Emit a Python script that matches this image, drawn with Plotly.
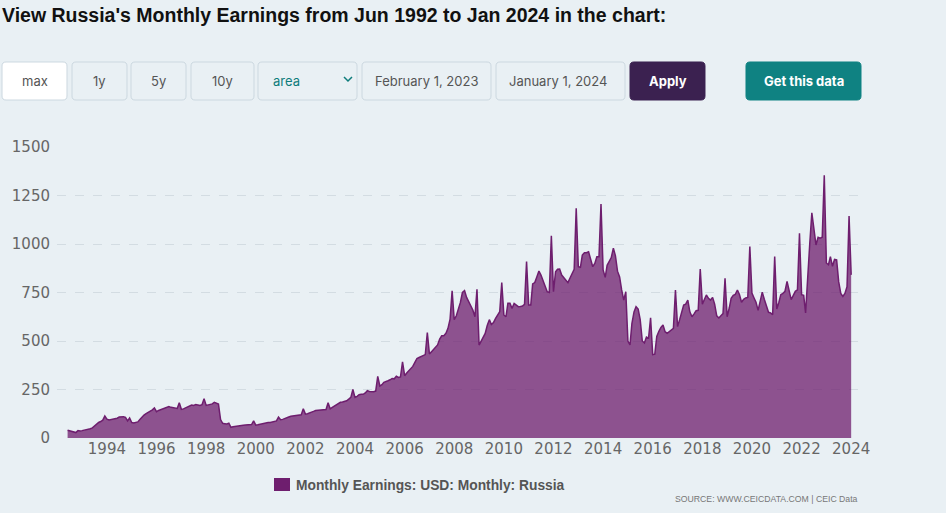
import pandas as pd
import plotly.graph_objects as go

# monthly earnings, USD (Jun 1992 .. Jan 2024)
y1992 = [40, 38, 35, 32, 28, 38, 36]
y1993 = [38, 40, 42, 45, 48, 52, 62, 72, 80, 85, 92, 113]
y1994 = [97, 93, 95, 96, 98, 102, 108, 110, 110, 106, 88, 103]
y1995 = [80, 78, 79, 83, 95, 108, 118, 126, 132, 140, 145, 155]
y1996 = [136, 142, 146, 150, 153, 158, 162, 158, 155, 153, 152, 182]
y1997 = [148, 150, 155, 160, 165, 170, 168, 172, 170, 168, 172, 203]
y1998 = [168, 170, 172, 176, 184, 180, 175, 95, 76, 74, 72, 76]
y1999 = [55, 58, 60, 62, 64, 66, 66, 67, 67, 68, 69, 88]
y2000 = [66, 68, 71, 74, 76, 79, 80, 80, 82, 84, 88, 108]
y2001 = [94, 96, 101, 104, 108, 112, 114, 115, 116, 118, 120, 151]
y2002 = [123, 125, 130, 133, 137, 142, 143, 142, 143, 146, 147, 182]
y2003 = [150, 158, 165, 172, 178, 184, 186, 188, 192, 200, 209, 250]
y2004 = [209, 215, 223, 225, 225, 232, 244, 240, 238, 239, 242, 318]
y2005 = [268, 275, 287, 290, 295, 300, 307, 305, 318, 312, 315, 393]
y2006 = [321, 335, 347, 358, 369, 390, 410, 415, 421, 425, 430, 544]
y2007 = [433, 445, 455, 470, 480, 510, 527, 527, 540, 565, 613, 759]
y2008 = [610, 630, 660, 699, 750, 760, 725, 700, 680, 660, 625, 766]
y2009 = [479, 500, 520, 539, 580, 610, 585, 595, 617, 635, 651, 801]
y2010 = [634, 625, 694, 694, 668, 694, 685, 677, 678, 680, 689, 909]
y2011 = [685, 685, 794, 801, 830, 861, 840, 810, 780, 754, 750, 1043]
y2012 = [754, 857, 870, 871, 840, 825, 814, 801, 825, 849, 869, 1184]
y2013 = [883, 880, 943, 955, 955, 960, 926, 883, 900, 934, 934, 1206]
y2014 = [866, 828, 890, 915, 930, 978, 940, 860, 830, 763, 711, 754]
y2015 = [500, 480, 590, 650, 677, 665, 610, 500, 490, 520, 515, 619]
y2016 = [430, 432, 524, 550, 570, 582, 548, 540, 548, 557, 565, 763]
y2017 = [574, 610, 650, 685, 690, 711, 650, 625, 640, 656, 658, 871]
y2018 = [690, 715, 737, 720, 711, 725, 690, 630, 619, 630, 641, 823]
y2019 = [625, 670, 720, 735, 740, 763, 740, 700, 715, 722, 725, 987]
y2020 = [747, 722, 700, 658, 700, 752, 715, 679, 648, 645, 636, 935]
y2021 = [665, 700, 739, 745, 756, 807, 760, 713, 735, 756, 764, 1055]
y2022 = [739, 735, 645, 850, 1000, 1161, 1080, 995, 1035, 1030, 1035, 1354]
y2023 = [902, 893, 935, 885, 921, 918, 806, 745, 730, 745, 780, 1144]
y2024 = [841]

earnings = (y1992 + y1993 + y1994 + y1995 + y1996 + y1997 + y1998 + y1999 + y2000
            + y2001 + y2002 + y2003 + y2004 + y2005 + y2006 + y2007 + y2008 + y2009
            + y2010 + y2011 + y2012 + y2013 + y2014 + y2015 + y2016 + y2017 + y2018
            + y2019 + y2020 + y2021 + y2022 + y2023 + y2024)
months = pd.date_range('1992-06-01', '2024-01-01', freq='MS')

y_ticks = [0, 250, 500, 750, 1000, 1250, 1500]
x_ticks = [str(y) for y in range(1994, 2025, 2)]
series_name = 'Monthly Earnings: USD: Monthly: Russia'
buttons = ['max', '1y', '5y', '10y']
date_from = 'February 1, 2023'
date_to = 'January 1, 2024'

# page geometry (pixels)
W, H = 946, 513
L, R, T, B = 57, 86, 147, 75
pw, ph = W - L - R, H - T - B
BG = '#E9F0F4'
PURPLE = '#6E1E6E'


def px(x):
    return (x - L) / pw


def py(y):
    return (H - B - y) / ph


def rbox(x0, y0, x1, y1, r=4):
    # rounded rectangle path in paper coords
    pts = [('M', x0 + r, y0), ('L', x1 - r, y0), ('Q', x1, y0, x1, y0 + r),
           ('L', x1, y1 - r), ('Q', x1, y1, x1 - r, y1), ('L', x0 + r, y1),
           ('Q', x0, y1, x0, y1 - r), ('L', x0, y0 + r), ('Q', x0, y0, x0 + r, y0)]
    s = ''
    for p in pts:
        if p[0] == 'Q':
            s += 'Q%.5f,%.5f %.5f,%.5f ' % (px(p[1]), py(p[2]), px(p[3]), py(p[4]))
        else:
            s += '%s%.5f,%.5f ' % (p[0], px(p[1]), py(p[2]))
    return s + 'Z'


def note(text, x, y, size=13, color='#555', family='Inter', anchor='center'):
    return dict(text=text, x=px(x), y=py(y), xref='paper', yref='paper',
                xanchor=anchor, yanchor='middle', showarrow=False,
                font=dict(family=family, size=size, color=color))


fig = go.Figure()
fig.add_trace(go.Scatter(
    x=months, y=earnings, mode='lines', fill='tozeroy',
    line=dict(color=PURPLE, width=1.5),
    fillcolor='rgba(110,30,110,0.75)',
    name=series_name, showlegend=False
))

shapes = []
annotations = []

# title
annotations.append(note("<b>View Russia's Monthly Earnings from Jun 1992 to Jan 2024 in the chart:</b>",
                        0, 15, size=19.5, color='#111', family='Liberation Sans', anchor='left'))

# control row
boxes = [(2, 67, buttons[0], 'white'), (72, 127, buttons[1], BG),
         (131, 186, buttons[2], BG), (191, 254, buttons[3], BG)]
for x0, x1, label, fc in boxes:
    shapes.append(dict(type='path', path=rbox(x0, 62, x1, 100), xref='paper', yref='paper',
                       fillcolor=fc, line=dict(color='#CCD8E0', width=1), layer='above'))
    annotations.append(note(label, (x0 + x1) / 2, 81))

shapes.append(dict(type='path', path=rbox(258, 62, 357, 100), xref='paper', yref='paper',
                   fillcolor=BG, line=dict(color='#CCD8E0', width=1), layer='above'))
annotations.append(note('area', 271, 81, color='#0E7C7B', anchor='left'))
shapes.append(dict(type='path', xref='paper', yref='paper', layer='above',
                   path='M%.5f,%.5f L%.5f,%.5f L%.5f,%.5f' % (px(344), py(77), px(348), py(81), px(352), py(77)),
                   line=dict(color='#0E7C7B', width=1.5)))

for x0, x1, label in [(362, 491, date_from), (496, 625, date_to)]:
    shapes.append(dict(type='path', path=rbox(x0, 62, x1, 100), xref='paper', yref='paper',
                       fillcolor=BG, line=dict(color='#CCD8E0', width=1), layer='above'))
    annotations.append(note(label, x0 + 11, 81, anchor='left'))

shapes.append(dict(type='path', path=rbox(630, 62, 705, 100), xref='paper', yref='paper',
                   fillcolor='#3B2150', line=dict(color='#3B2150', width=1), layer='above'))
annotations.append(note('<b>Apply</b>', 667.5, 81, color='white'))
shapes.append(dict(type='path', path=rbox(746, 62, 861, 100), xref='paper', yref='paper',
                   fillcolor='#0F8282', line=dict(color='#0F8282', width=1), layer='above'))
annotations.append(note('<b>Get this data</b>', 803.5, 81, color='white'))

# legend and source
shapes.append(dict(type='rect', xref='paper', yref='paper', x0=px(274), x1=px(290),
                   y0=py(478), y1=py(491), fillcolor=PURPLE, line=dict(width=0)))
annotations.append(note('<b>' + series_name + '</b>', 294, 485, size=13.8,
                        family='Liberation Sans', anchor='left'))
annotations.append(note('SOURCE: WWW.CEICDATA.COM | CEIC Data', 860, 499, size=8.7, color='#777',
                        family='Liberation Sans', anchor='right'))

fig.update_layout(
    width=W, height=H,
    margin=dict(l=L, r=R, t=T, b=B),
    paper_bgcolor=BG, plot_bgcolor=BG,
    showlegend=False,
    shapes=shapes, annotations=annotations,
    xaxis=dict(
        type='date', range=['1991-12-28', '2024-05-10'],
        tickvals=[y + '-01-01' for y in x_ticks], ticktext=x_ticks,
        showgrid=False, zeroline=False, showline=False, ticks='',
        tickfont=dict(family='DejaVu Sans', size=15, color='#666')
    ),
    yaxis=dict(
        range=[0, 1500], tickvals=y_ticks,
        showgrid=True, gridcolor='#D3DCE2', griddash='dash', gridwidth=1,
        zeroline=False, showline=False, ticks='', ticklabelstandoff=6,
        tickfont=dict(family='DejaVu Sans', size=15, color='#666')
    ),
)

fig.write_html('out.html', config={'displayModeBar': False},
               post_script="document.body.style.margin='0';")
